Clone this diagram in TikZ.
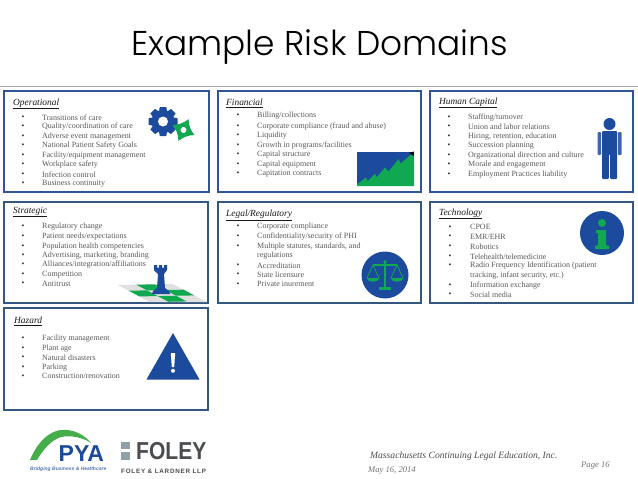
\documentclass[tikz,border=0pt]{standalone}
\usepackage{fontspec}
\usepackage{graphicx}
\setmainfont{Liberation Serif}
\newfontfamily\ttlfont{Poppins Light}
\newfontfamily\logofont{Liberation Sans}
\newfontfamily\logospaced[LetterSpace=12]{Liberation Sans}
\definecolor{bordera}{HTML}{2F5597}
\definecolor{borderb}{HTML}{34577F}
\definecolor{iconblue}{HTML}{1C4A9C}
\definecolor{icongreen}{HTML}{10A850}
\definecolor{arcgreen}{HTML}{45AE4B}
\definecolor{txtgray}{HTML}{5A5A5A}
\definecolor{foleygray}{HTML}{4A4D4F}
\definecolor{foleysq}{HTML}{8FA1A8}
\newcounter{itm}
\tikzset{
  box/.style={draw,line width=1.5pt,fill=white,inner sep=0pt,outer sep=0pt,minimum width=#1},
  boxa/.style={box=203pt,draw=bordera,minimum height=101pt},
  boxb/.style={box=203pt,draw=borderb,minimum height=101pt},
  head/.style={anchor=west,inner sep=0pt,font=\fontsize{9.4}{11}\selectfont\itshape,text=black!90},
  item/.style={anchor=west,inner sep=0pt,font=\fontsize{8}{10}\selectfont,text=txtgray},
  bul/.style={inner sep=0pt,font=\fontsize{8}{10}\selectfont,text=black!80},
  foot/.style={anchor=west,inner sep=0pt,font=\fontsize{9.6}{11}\selectfont\itshape,text=black!70},
}
% bullet x, text x, y, text
\newcommand{\lineitem}[4]{%
  \stepcounter{itm}%
  \node[bul] (b\theitm) at (#1,#3) {\textbullet};
  \node[item] (t\theitm) at (#2,#3) {#4};
}
\newcommand{\contline}[3]{%
  \stepcounter{itm}%
  \node[item] (t\theitm) at (#1,#2) {#3};
}
\begin{document}
\begin{tikzpicture}[x=1pt,y=-1pt]
\useasboundingbox (0,0) rectangle (638,479);
\fill[white] (0,0) rectangle (638,479);
% title
\node[anchor=base,inner sep=0pt,font=\fontsize{34.4}{40}\selectfont\ttlfont,text=black] (title) at (319.5,55) {Example Risk Domains};
\draw[gray!70,line width=1pt] (0,86) -- (638,86);
% boxes
\node[boxa,minimum width=205pt] (op) at (106.5,141.5) {};
\node[boxa] (fin) at (319.5,141.5) {};
\node[boxa] (hum) at (531.5,141.5) {};
\node[boxb,minimum width=204pt] (str) at (106,252.5) {};
\node[boxb] (leg) at (319.5,252.5) {};
\node[boxb] (tec) at (531.5,252.5) {};
\node[boxb,minimum width=204pt,minimum height=102pt] (haz) at (106,359) {};
% Operational
\node[head] (hop) at (13,104) {\underline{Operational}};
\lineitem{23}{42}{117.3}{Transitions of care}
\lineitem{23}{42}{126.3}{Quality/coordination of care}
\lineitem{23}{42}{136.3}{Adverse event management}
\lineitem{23}{42}{145.3}{National Patient Safety Goals}
\lineitem{23}{42}{155.3}{Facility/equipment management}
\lineitem{23}{42}{164.3}{Workplace safety}
\lineitem{23}{42}{174.3}{Infection control}
\lineitem{23}{42}{184}{Business continuity}
% Strategic
\node[head] (hstr) at (13,212) {\underline{Strategic}};
\lineitem{23}{42}{226.7}{Regulatory change}
\lineitem{23}{42}{236.3}{Patient needs/expectations}
\lineitem{23}{42}{246.3}{Population health competencies}
\lineitem{23}{42}{255.3}{Advertising, marketing, branding}
\lineitem{23}{42}{265}{Alliances/integration/affiliations}
\lineitem{23}{42}{274.3}{Competition}
\lineitem{23}{42}{284}{Antitrust}
% Financial
\node[head] (hfin) at (226,103) {\underline{Financial}};
\lineitem{238}{257}{116}{Billing/collections}
\lineitem{238}{257}{126.3}{Corporate compliance (fraud and abuse)}
\lineitem{238}{257}{135.3}{Liquidity}
\lineitem{238}{257}{145.3}{Growth in programs/facilities}
\lineitem{238}{257}{154.3}{Capital structure}
\lineitem{238}{257}{164.3}{Capital equipment}
\lineitem{238}{257}{173.3}{Capitation contracts}
% Legal
\node[head] (hleg) at (226,215.7) {\underline{Legal/Regulatory}};
\lineitem{238}{257}{226.7}{Corporate compliance}
\lineitem{238}{257}{236.3}{Confidentiality/security of PHI}
\lineitem{238}{257}{246.3}{Multiple statutes, standards, and}
\contline{257}{255.3}{regulations}
\lineitem{238}{257}{265.3}{Accreditation}
\lineitem{238}{257}{274.3}{State licensure}
\lineitem{238}{257}{284.3}{Private inurement}
% Human capital
\node[head] (hhum) at (439,103) {\underline{Human Capital}};
\lineitem{449}{468}{117.3}{Staffing/turnover}
\lineitem{449}{468}{126.3}{Union and labor relations}
\lineitem{449}{468}{136.3}{Hiring, retention, education}
\lineitem{449}{468}{145.3}{Succession planning}
\lineitem{449}{468}{155.3}{Organizational direction and culture}
\lineitem{449}{468}{164.3}{Morale and engagement}
\lineitem{449}{468}{174.3}{Employment Practices liability}
% Technology
\node[head] (htec) at (439,214) {\underline{Technology}};
\lineitem{450}{470}{227.3}{CPOE}
\lineitem{450}{470}{237}{EMR/EHR}
\lineitem{450}{470}{246.3}{Robotics}
\lineitem{450}{470}{256.3}{Telehealth/telemedicine}
\lineitem{450}{470}{265.3}{Radio Frequency Identification (patient}
\contline{470}{275.7}{tracking, infant security, etc.)}
\lineitem{450}{470}{285.3}{Information exchange}
\lineitem{450}{470}{294.3}{Social media}
% Hazard
\node[head] (hhaz) at (14,321) {\underline{Hazard}};
\lineitem{23}{42}{338.3}{Facility management}
\lineitem{23}{42}{348.3}{Plant age}
\lineitem{23}{42}{357.3}{Natural disasters}
\lineitem{23}{42}{367.3}{Parking}
\lineitem{23}{42}{376.3}{Construction/renovation}
% gear icon
\begin{scope}[shift={(163,121.5)}]
  \fill[iconblue] (0,0) circle (11.5);
  \foreach \a in {0,45,...,315}
    \fill[iconblue,rotate=\a] (-3.2,-14.5) -- (3.2,-14.5) -- (4.5,-8) -- (-4.5,-8) -- cycle;
  \fill[white] (0,0) circle (5);
\end{scope}
\begin{scope}[shift={(183.5,130)},rotate=20]
  \fill[icongreen] (-8.5,-8.5) .. controls (-3,-6.5) and (3,-6.5) .. (8.5,-8.5)
     .. controls (6.5,-3) and (6.5,3) .. (8.5,8.5)
     .. controls (3,6.5) and (-3,6.5) .. (-8.5,8.5)
     .. controls (-6.5,3) and (-6.5,-3) .. (-8.5,-8.5) -- cycle;
  \fill[white] (0,0) circle (3);
\end{scope}
% chess icon
\fill[black!12] (118,285) -- (173,284) -- (207,302.2) -- (150,302.2) -- cycle;
\foreach \i/\j in {1/0,0/1,2/1,1/2}
  \fill[icongreen] ({118+\i*18.3+\j*10.7},{285-\i*0.33+\j*5.7})
    -- ({118+(\i+1)*18.3+\j*10.7},{285-(\i+1)*0.33+\j*5.7})
    -- ({118+(\i+1)*18.3+(\j+1)*10.7},{285-(\i+1)*0.33+(\j+1)*5.7})
    -- ({118+\i*18.3+(\j+1)*10.7},{285-\i*0.33+(\j+1)*5.7}) -- cycle;
\fill[iconblue] (154,265) -- (157,265) -- (157,267.5) -- (159,267.5) -- (159,265) -- (162,265) -- (162,267.5) -- (164,267.5) -- (164,265) -- (167,265)
  -- (167,270) -- (164,274) -- (165,288) -- (169,291) -- (170,294) -- (152,294) -- (153,291) -- (157,288) -- (158,274) -- (154,270) -- cycle;
% chart icon
\fill[iconblue] (357,152) rectangle (414,186);
\fill[icongreen] (357,184.5) -- (366,177.5) -- (367.5,181) -- (375,173.5) -- (376.5,177.5) -- (385,167.5) -- (388.5,171.5) -- (398.5,159) -- (400.5,163.5) -- (414,152) -- (414,186) -- (357,186) -- cycle;
\fill[black] (414,151.5) -- (413.5,156) -- (409,152.8) -- cycle;
% scales icon
\fill[iconblue] (385,275) circle (23.5);
\begin{scope}[icongreen,line width=1.1pt]
  \draw (373,265) -- (397,265);
  \draw[line width=1.6pt] (385,262) -- (385,288);
  \fill (385,262) circle (1.8);
  \fill (379,287) rectangle (391,290);
  \draw[line width=.8pt] (367,278) -- (373,265) -- (379,278);
  \draw[line width=.8pt] (391,278) -- (397,265) -- (403,278);
  \fill (366.5,278) -- (379.5,278) .. controls (378,283) and (368,283) .. (366.5,278) -- cycle;
  \fill (390.5,278) -- (403.5,278) .. controls (402,283) and (392,283) .. (390.5,278) -- cycle;
\end{scope}
% person icon
\fill[iconblue] (609.5,124) circle (6);
\fill[iconblue,rounded corners=1pt] (602,131) -- (617,131) -- (617,179) -- (610.2,179) -- (610.2,154) -- (608.8,154) -- (608.8,179) -- (602,179) -- cycle;
\fill[iconblue!85,rounded corners=1pt] (597.5,132) rectangle (601.2,155);
\fill[iconblue!85,rounded corners=1pt] (617.8,132) rectangle (621.5,155);
% info icon
\fill[iconblue] (602,233) circle (22);
\fill[icongreen] (602,223) circle (4);
\fill[icongreen] (596,230) -- (606,230) -- (606,245) -- (609,246) -- (609,249) -- (595,249) -- (595,246) -- (598,245) -- (598,233) -- (596,233) -- cycle;
% hazard icon
\fill[iconblue] (173,333) -- (199.5,379.5) -- (146.5,379.5) -- cycle;
\fill[white] (170.8,353) -- (175.2,353) -- (174.2,367) -- (171.8,367) -- cycle;
\fill[white] (173,370.8) circle (2);
% PYA logo
\fill[arcgreen] (30,460) .. controls (38,440) and (52,430) .. (62,430)
  .. controls (72,429) and (84,434) .. (91,443)
  .. controls (82,437) and (70,435) .. (61,437)
  .. controls (51,440) and (43,450) .. (37,460) -- cycle;
\node[anchor=base west,inner sep=0pt,font=\fontsize{23}{26}\selectfont\logofont\bfseries,text=iconblue] (pya) at (58.5,461) {PYA};
\node[anchor=base west,inner sep=0pt,font=\fontsize{5}{6}\selectfont\logofont\bfseries\itshape,text=iconblue!75] (tag) at (30,470) {Bridging Business \& Healthcare};
% Foley logo
\fill[foleysq] (121,441.5) rectangle (130,449);
\fill[foleysq] (121,452) rectangle (130,459.5);
\node[anchor=base west,inner sep=0pt,font=\fontsize{24.5}{28}\selectfont\logofont\bfseries,text=foleygray] (foley) at (136,459.5) {\scalebox{0.86}[1]{FOLEY}};
\node[anchor=base west,inner sep=0pt,font=\fontsize{6.3}{8}\selectfont\logospaced\bfseries,text=foleygray] (lard) at (121,473) {FOLEY \& LARDNER LLP};
% footer
\node[foot] (f1) at (370,456) {Massachusetts Continuing Legal Education, Inc.};
\node[foot,font=\fontsize{8.6}{11}\selectfont\itshape,text=black!55] (f2) at (368,470.5) {May 16, 2014};
\node[foot,font=\fontsize{8.6}{11}\selectfont\itshape,text=black!55] (f3) at (581,465.5) {Page 16};
\end{tikzpicture}
\end{document}
